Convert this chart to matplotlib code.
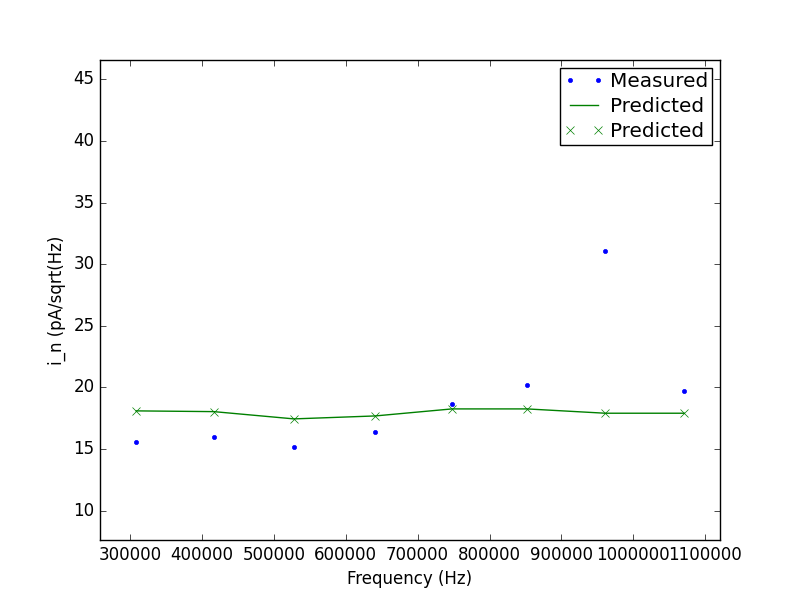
import matplotlib
matplotlib.use('Agg')
import matplotlib.pyplot as plt
from matplotlib.ticker import MultipleLocator

plt.style.use('classic')

# frequencies (Hz)
freq = [308700, 416600, 528000, 641100, 747800, 852000, 960800, 1070600]

# current noise, pA/sqrt(Hz)
measured = [15.55, 15.96, 15.15, 16.37, 18.64, 20.18, 31.06, 19.69]
predicted = [18.10, 18.04, 17.45, 17.69, 18.26, 18.26, 17.91, 17.91]

fig = plt.figure(figsize=(8, 6), dpi=100, facecolor='white')
ax = fig.add_subplot(111)

ax.plot(freq, measured, 'b.', label='Measured')
ax.plot(freq, predicted, 'g-', label='Predicted')
ax.plot(freq, predicted, 'gx', label='Predicted')

ax.set_xlim(258400, 1120400)
ax.set_ylim(7.62, 46.58)
ax.xaxis.set_major_locator(MultipleLocator(100000))
ax.yaxis.set_major_locator(MultipleLocator(5))
ax.set_xlabel('Frequency (Hz)')
ax.set_ylabel('i_n (pA/sqrt(Hz)')
ax.legend(loc='upper right', numpoints=2, fontsize='large', handlelength=2.0,
          borderaxespad=0.4, handletextpad=0.3, borderpad=0.2, labelspacing=0.3)

fig.savefig('out.png', dpi=100, facecolor='white')
